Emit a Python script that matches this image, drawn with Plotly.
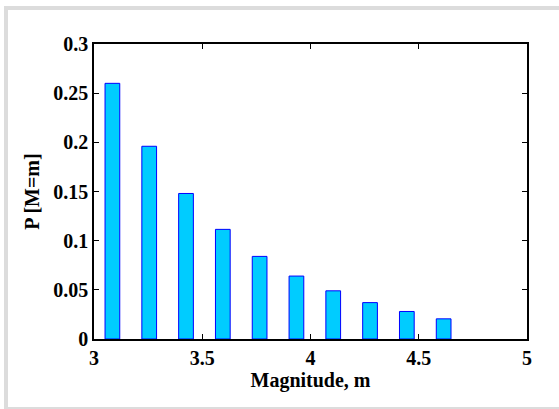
import plotly.graph_objects as go

# Magnitude bin centres and probability of each magnitude
magnitude = [3.085, 3.255, 3.425, 3.595, 3.765, 3.935, 4.105, 4.275, 4.445, 4.615]
prob = [0.260, 0.196, 0.148, 0.1115, 0.084, 0.064, 0.049, 0.037, 0.028, 0.0205]

x_ticks = [3, 3.5, 4, 4.5, 5]
x_tick_labels = ["3", "3.5", "4", "4.5", "5"]
y_ticks = [0, 0.05, 0.1, 0.15, 0.2, 0.25, 0.3]
y_tick_labels = ["0", "0.05", "0.1", "0.15", "0.2", "0.25", "0.3"]

W, H = 559, 409
L, R, T, B = 94, 32, 44, 70
pw, ph = W - L - R, H - T - B


def px(x):
    return (x - L) / pw


def py(y):
    return (H - B - y) / ph


font = dict(family="Liberation Serif, Times New Roman, serif", size=20, color="black")

fig = go.Figure(
    go.Bar(
        x=magnitude,
        y=prob,
        width=0.068,
        marker=dict(color="#00CCFF", line=dict(color="#0000FF", width=1)),
    )
)

axis_common = dict(
    showline=True,
    linecolor="black",
    linewidth=1.5,
    mirror="ticks",
    ticks="inside",
    ticklen=5,
    tickcolor="black",
    tickwidth=1,
    showgrid=False,
    zeroline=False,
    tickfont=font,
)

fig.update_layout(
    width=W,
    height=H,
    margin=dict(l=L, r=R, t=T, b=B),
    paper_bgcolor="white",
    plot_bgcolor="white",
    showlegend=False,
    font=font,
    xaxis=dict(
        axis_common,
        range=[3, 5],
        tickvals=x_ticks,
        ticktext=["<b>%s</b>" % t for t in x_tick_labels],
        title=dict(text="<b>Magnitude, m</b>", font=font, standoff=0),
    ),
    yaxis=dict(
        axis_common,
        range=[0, 0.3],
        tickvals=y_ticks,
        ticktext=["<b>%s</b>" % t for t in y_tick_labels],
        title=dict(text="<b>P [M=m]</b>", font=font, standoff=8),
    ),
)

# Light grey figure frame (top, left and bottom edges)
frame = "#DCDCDC"
for x0, y0, x1, y1 in [
    (4, 6, 559, 10),
    (4, 6, 8, 409),
    (8, 407, 559, 409),
]:
    fig.add_shape(
        type="rect", xref="paper", yref="paper",
        x0=px(x0), x1=px(x1), y0=py(y1), y1=py(y0),
        fillcolor=frame, line=dict(width=0), layer="below",
    )

fig.write_html("out.html")
